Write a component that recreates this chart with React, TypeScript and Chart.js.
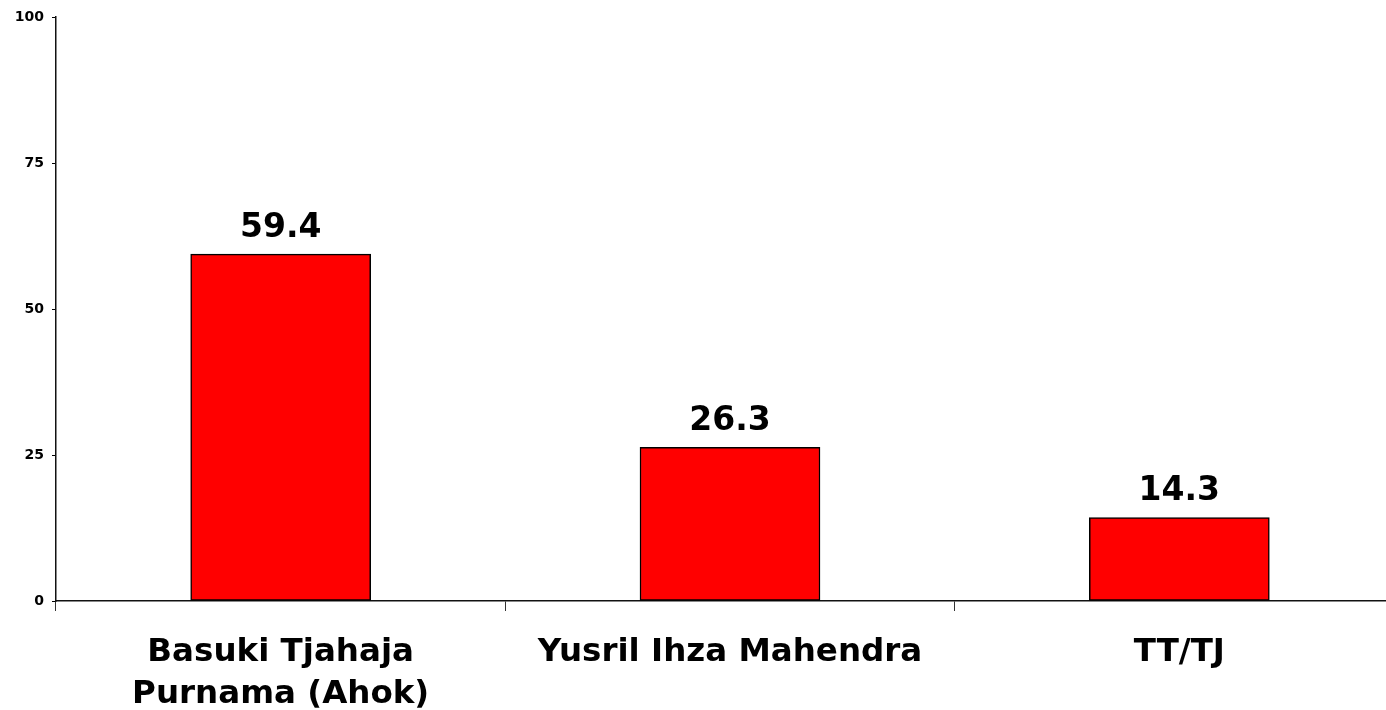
import React, { useEffect, useRef } from "react";
import { Chart, registerables } from "chart.js";

Chart.register(...registerables);

const categories: (string | string[])[] = [
  ["Basuki Tjahaja", "Purnama (Ahok)"],
  "Yusril Ihza Mahendra",
  "TT/TJ",
];
const values: number[] = [59.4, 26.3, 14.3];
const yTicks: number[] = [0, 25, 50, 75, 100];

const FONT = "'DejaVu Sans', Verdana, sans-serif";

const valueLabels = {
  id: "valueLabels",
  afterDatasetsDraw(chart: any) {
    const { ctx } = chart;
    const meta = chart.getDatasetMeta(0);
    ctx.save();
    ctx.font = `bold 33px ${FONT}`;
    ctx.fillStyle = "#000";
    ctx.textAlign = "center";
    ctx.textBaseline = "alphabetic";
    meta.data.forEach((bar: any, i: number) => {
      ctx.fillText(values[i].toFixed(1), bar.x, bar.y - 17);
    });
    ctx.restore();
  },
};

export default function App() {
  const ref = useRef<HTMLCanvasElement | null>(null);
  useEffect(() => {
    if (!ref.current) return;
    const chart = new Chart(ref.current, {
      type: "bar",
      data: {
        labels: categories,
        datasets: [
          {
            data: values,
            backgroundColor: "#ff0000",
            borderColor: "#000000",
            borderWidth: 1.5,
            borderSkipped: false,
            barThickness: 180,
          },
        ],
      },
      options: {
        responsive: false,
        animation: false,
        maintainAspectRatio: false,
        layout: { padding: { top: 17, left: 0, right: 0, bottom: 0 } },
        plugins: {
          legend: { display: false },
          tooltip: { enabled: false },
        },
        scales: {
          x: {
            offset: true,
            grid: {
              offset: true,
              drawOnChartArea: false,
              drawTicks: true,
              tickLength: 10,
              color: "#333",
              lineWidth: 1,
            },
            border: { display: true, color: "#111", width: 1.5 },
            ticks: {
              color: "#000",
              font: { family: FONT, size: 32.5, weight: "bold", lineHeight: 1.3 },
              padding: 20,
              maxRotation: 0,
              autoSkip: false,
            },
            afterFit(scale: any) {
              scale.height = 109;
            },
          },
          y: {
            min: 0,
            max: 100,
            afterBuildTicks(scale: any) {
              scale.ticks = yTicks.map((v) => ({ value: v }));
            },
            grid: {
              drawOnChartArea: false,
              drawTicks: true,
              tickLength: 4,
              color: "#000",
            },
            border: { display: true, color: "#111", width: 1.5 },
            ticks: {
              color: "#000",
              font: { family: FONT, size: 14, weight: "bold" },
              padding: 8,
            },
            afterFit(scale: any) {
              scale.width = 56;
            },
          },
        },
      },
      plugins: [valueLabels],
    });
    return () => chart.destroy();
  }, []);
  return (
    <div
      style={{
        position: "fixed",
        left: 0,
        top: 0,
        width: 1386,
        height: 710,
        overflow: "hidden",
        background: "#fff",
      }}
    >
      <canvas ref={ref} width={1404} height={710} style={{ display: "block" }} />
    </div>
  );
}
